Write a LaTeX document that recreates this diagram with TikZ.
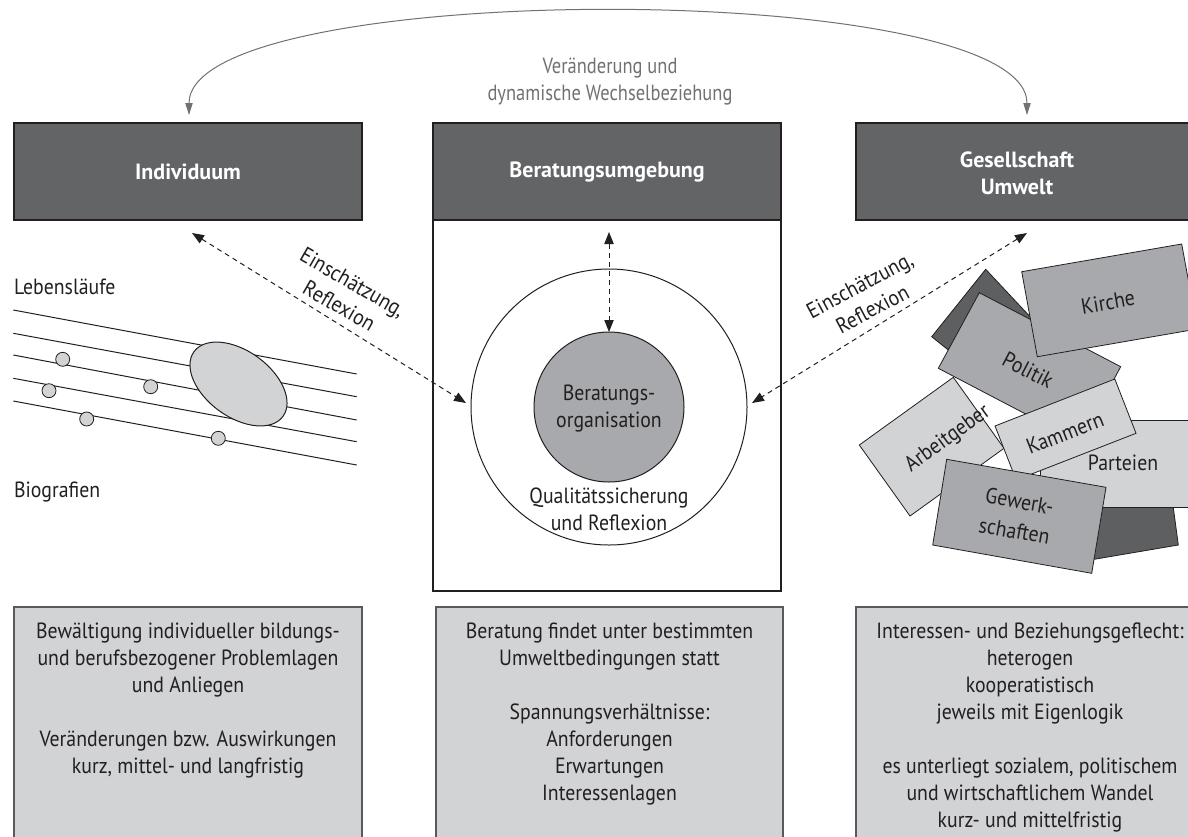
\documentclass[tikz,border=0pt]{standalone}
\usepackage{fontspec}
\setmainfont{PT Sans}[FakeStretch=0.9]
\newfontfamily\headfont{PT Sans}
\newfontfamily\narrowfont{PT Sans}[FakeStretch=0.84]
\usetikzlibrary{arrows.meta,shapes.geometric}

\definecolor{hdrfill}{HTML}{636466}
\definecolor{midg}{HTML}{A7A9AC}
\definecolor{lightg}{HTML}{D1D3D4}
\definecolor{darkg}{HTML}{5E5F61}
\definecolor{arcg}{HTML}{707174}
\definecolor{ink}{HTML}{231F20}
\definecolor{boxline}{HTML}{58595B}

\newcommand\diagfont{\fontsize{16.5}{20.25}\selectfont}

\begin{document}
\begin{tikzpicture}[x=0.75pt,y=-0.75pt,
  every node/.style={inner sep=0pt, outer sep=0pt, text=ink, font=\diagfont},
  header/.style={draw=ink, line width=0.8pt, fill=hdrfill, minimum width=261pt, minimum height=72.75pt},
  headtext/.style={text=white, font=\diagfont\headfont\bfseries, align=center},
  infobox/.style={draw=boxline, line width=0.8pt, fill=lightg, minimum height=180pt},
  infotext/.style={align=center},
  dasharrow/.style={draw=ink, line width=0.75pt, dash pattern=on 3.75pt off 3pt,
    {Triangle[length=9pt,width=7pt]}-{Triangle[length=9pt,width=7pt]}},
  bigarc/.style={draw=arcg, line width=0.75pt,
    {Triangle[length=9pt,width=5.5pt]}-{Triangle[length=9pt,width=5.5pt]}},
  lifeline/.style={draw=ink, line width=0.75pt},
  dot/.style={circle, draw=ink, line width=0.6pt, fill=lightg, minimum size=10.5pt},
  tile/.style={draw=ink, line width=0.6pt},
]
\useasboundingbox (0,0) rectangle (1188,836);

% ---------- centre column frame ----------
\node[draw=ink, line width=0.8pt, fill=white, minimum width=261pt, minimum height=351pt] (frame) at (607,357) {};

% ---------- header boxes ----------
\node[header] (ind) at (188,171.5) {};
\node[headtext] (indtext) at (188,172) {Individuum};
\node[header] (bu) at (607,171.5) {};
\node[headtext] (butext) at (607,172) {Beratungsumgebung};
\node[header] (ges) at (1030,171.5) {};
\node[headtext] (gestext) at (1017,173) {Gesellschaft\\Umwelt};

% ---------- arc between individual and society ----------
\draw[bigarc] ([shift={(1,-8)}]ind.north) .. controls +(0,-137) and +(0,-137) .. ([shift={(-3,-8)}]ges.north);
\node[align=center, text=arcg, font=\diagfont\narrowfont] (arclabel) at (610,81.5) {Veränderung und\\dynamische Wechselbeziehung};

% ---------- counselling organisation ----------
\node[circle, draw=ink, line width=0.75pt, fill=white, minimum size=207pt] (outer) at (609,407) {};
\node[circle, draw=ink, line width=0.75pt, fill=midg, minimum size=112.5pt] (inner) at (609,407) {};
\node[align=center] (orgtext) at (609,408.5) {Beratungs-\\organisation};
\node[align=center] (qstext) at (609,509) {Qualitätssicherung\\und Reflexion};

\draw[dasharrow] ([shift={(2,12)}]bu.south) -- (inner.north);
\draw[dasharrow] ([shift={(4,13)}]ind.south) -- ([shift={(-5,-4)}]outer.west);
\draw[dasharrow] ([shift={(-3,13)}]ges.south) -- ([shift={(5,-4)}]outer.east);

\node[align=center, rotate=-30] (evalL) at (346,294) {Einschätzung,\\Reflexion};
\node[align=center, rotate=28] (evalR) at (866,297) {Einschätzung,\\Reflexion};

% ---------- life courses ----------
\node[anchor=west] (lebens) at (14,287) {Lebensläufe};
\node[anchor=west] (bio) at (14,492) {Biografien};
\draw[lifeline] (13.3,310) -- (356.7,374);
\draw[lifeline] (13.3,333.3) -- (356.7,396.7);
\draw[lifeline] (13.3,355) -- (356.7,420);
\draw[lifeline] (13.3,378.3) -- (356.7,441.7);
\draw[lifeline] (13.3,401) -- (356.7,465);
\node[ellipse, draw=ink, line width=0.75pt, fill=lightg, minimum width=82.5pt, minimum height=49.5pt, rotate=-36] (blob) at (238.5,384) {};
\node[dot] (d1) at (62.7,359.3) {};
\node[dot] (d2) at (49,390.7) {};
\node[dot] (d3) at (150.7,386.7) {};
\node[dot] (d4) at (86.7,419) {};
\node[dot] (d5) at (218.3,438.3) {};

% ---------- society collage ----------
\filldraw[tile, fill=darkg] (985.7,269.3) -- (931.7,336.7) -- (978.5,374.2) -- (1040.4,327.7) -- cycle;
\filldraw[tile, fill=lightg] (859.3,445) -- (953.3,377.3) -- (1004,448.3) -- (910,516) -- cycle;
\filldraw[tile, fill=midg] (979.3,292.7) -- (1120.7,366.7) -- (1079.7,442.3) -- (938.3,368.3) -- cycle;
\filldraw[tile, fill=midg] (1021.7,271.7) -- (1181.7,244) -- (1197.3,329) -- (1037.3,356.7) -- cycle;
\filldraw[tile, fill=darkg] (1090,498) -- (1172,498) -- (1178.3,545) -- (1090,560) -- cycle;
\filldraw[tile, fill=lightg] (1040,420) -- (1200,420) -- (1200,507) -- (1040,507) -- cycle;
\filldraw[tile, fill=lightg] (995,426) -- (1114.8,379) -- (1136,433.3) -- (1016.2,480) -- cycle;
\filldraw[tile, fill=midg] (946.7,459.3) -- (1106,487.3) -- (1091.7,573.3) -- (932.7,545) -- cycle;

\node[rotate=9.8] (kirche) at (1108,302) {Kirche};
\node[rotate=-27.6] (politik) at (1028,370) {Politik};
\node[rotate=36] (arbeit) at (948,439) {Arbeitgeber};
\node[rotate=21.5] (kammern) at (1065,433) {Kammern};
\node (parteien) at (1123,463) {Parteien};
\node[rotate=-10, align=center, font=\fontsize{16.5}{22.5}\selectfont] (gewerk) at (1017,516) {Gewerk-\\schaften};

% ---------- description boxes ----------
\node[infobox, minimum width=261pt] (descL) at (188,727) {};
\node[infobox, minimum width=260.25pt] (descM) at (609.5,727) {};
\node[infobox, minimum width=261pt] (descR) at (1030,727) {};

\node[infotext] (txtL) at (188,700.5) {Bewältigung individueller bildungs-\\und berufsbezogener Problemlagen\\und Anliegen\\[20.25pt]Veränderungen bzw. Auswirkungen\\kurz, mittel- und langfristig};
\node[infotext] (txtM) at (609.5,714) {Beratung findet unter bestimmten\\Umweltbedingungen statt\\[20.25pt]Spannungsverhältnisse:\\Anforderungen\\Erwartungen\\Interessenlagen};
\node[infotext] (txtR) at (1030,727.5) {Interessen- und Beziehungsgeflecht:\\heterogen\\kooperatistisch\\jeweils mit Eigenlogik\\[20.25pt]es unterliegt sozialem, politischem\\und wirtschaftlichem Wandel\\kurz- und mittelfristig};
\end{tikzpicture}
\end{document}
